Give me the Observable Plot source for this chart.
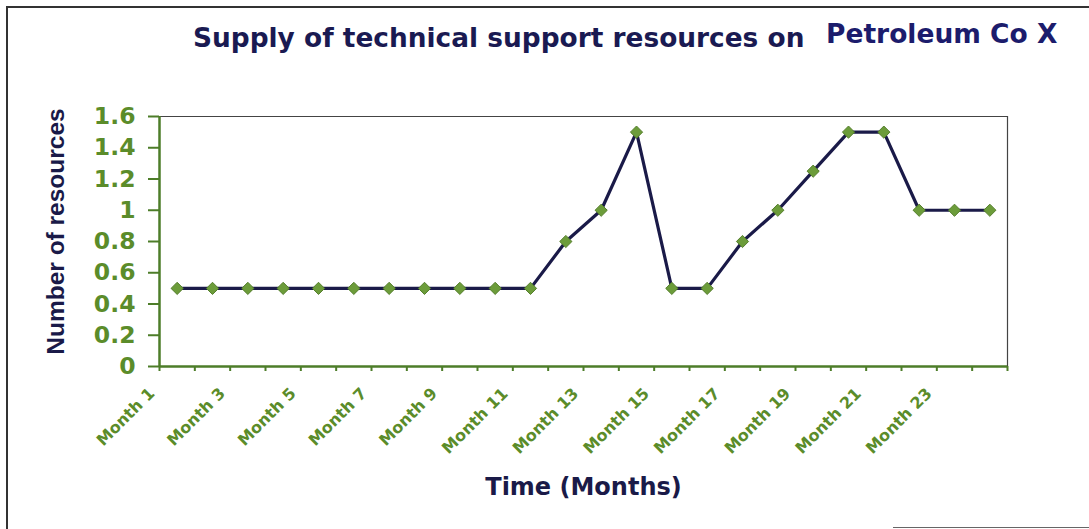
<!DOCTYPE html>
<html>
<head>
<meta charset="utf-8">
<script src="https://cdn.jsdelivr.net/npm/d3@7"></script>
<script src="https://cdn.jsdelivr.net/npm/@observablehq/plot@0.6"></script>
<style>
  html, body { margin: 0; padding: 0; background: #fff; }
  #wrap { position: relative; width: 1089px; height: 529px; overflow: hidden; background: #fff; }
  .frame-top { position: absolute; left: 6px; top: 6px; width: 1083px; height: 0; border-top: 2px solid #333; }
  .frame-left { position: absolute; left: 6px; top: 6px; width: 0; height: 523px; border-left: 2px solid #333; }
  .frame-bottom { position: absolute; left: 893px; top: 527px; width: 196px; height: 0; border-top: 1.5px solid #666; }
  .t1, .t2 { position: absolute; font-family: "DejaVu Sans", sans-serif; font-weight: bold; line-height: 1; white-space: nowrap; }
  .t1 { left: 193px; top: 25px; font-size: 26.4px; color: #1a1a52; }
  .t2 { left: 826px; top: 21px; font-size: 26.5px; color: #1c1c6c; }
  #chart { position: absolute; left: 0; top: 70px; }
</style>
</head>
<body>
<div id="wrap">
  <div class="frame-top"></div>
  <div class="frame-left"></div>
  <div class="frame-bottom"></div>
  <div class="t1">Supply of technical support resources on</div>
  <div class="t2">Petroleum Co X</div>
  <div id="chart"></div>
</div>
<script>
const months = ["Month 1","Month 2","Month 3","Month 4","Month 5","Month 6","Month 7","Month 8",
  "Month 9","Month 10","Month 11","Month 12","Month 13","Month 14","Month 15","Month 16",
  "Month 17","Month 18","Month 19","Month 20","Month 21","Month 22","Month 23","Month 24"];
const resources = [0.5,0.5,0.5,0.5,0.5,0.5,0.5,0.5,0.5,0.5,0.5,0.8,1.0,1.5,0.5,0.5,0.8,1.0,1.25,1.5,1.5,1.0,1.0,1.0];
const xTickLabels = ["Month 1","Month 3","Month 5","Month 7","Month 9","Month 11","Month 13","Month 15",
  "Month 17","Month 19","Month 21","Month 23"];
const yTicks = [0,0.2,0.4,0.6,0.8,1,1.2,1.4,1.6];
const yTitle = "Number of resources";
const xTitle = "Time (Months)";

const data = months.map((m, i) => ({month: m, idx: i + 1, value: resources[i]}));
const labelData = xTickLabels.map(l => ({label: l, idx: months.indexOf(l) + 1}));
const boundaries = d3.range(0, months.length + 1).map(i => i + 0.5);

const green = "#5b8c2a";
const axisGreen = "#4d7d29";
const navy = "#1a1a48";

const chart = Plot.plot({
  width: 1089,
  height: 459,
  marginTop: 46,
  marginBottom: 163,
  marginLeft: 159,
  marginRight: 82,
  style: {fontFamily: "'DejaVu Sans', sans-serif", fontWeight: "bold", background: "transparent"},
  x: {type: "linear", domain: [0.5, months.length + 0.5], axis: null},
  y: {domain: [0, 1.6], axis: null},
  marks: [
    Plot.ruleY([1.6], {stroke: "#444", strokeWidth: 1.2}),
    Plot.ruleX([months.length + 0.5], {stroke: "#444", strokeWidth: 1.2}),
    Plot.axisY({ticks: yTicks, tickSize: 11, tickPadding: 13, tickFormat: d => String(+d.toFixed(1)),
      fontSize: 23.5, fontWeight: "bold", color: green, stroke: axisGreen, strokeWidth: 2, label: null}),
    Plot.axisX({ticks: boundaries, tickSize: 5, tickFormat: () => "", stroke: axisGreen, strokeWidth: 2, label: null}),
    Plot.ruleX([0.5], {stroke: axisGreen, strokeWidth: 2.5}),
    Plot.ruleY([0], {stroke: axisGreen, strokeWidth: 2.5}),
    Plot.text(labelData, {x: d => d.idx - 0.5, text: "label", frameAnchor: "bottom", rotate: -45,
      textAnchor: "end", lineAnchor: "bottom", dx: -4, dy: 28, fontSize: 16, fill: green, fontWeight: "bold"}),
    Plot.text([xTitle], {frameAnchor: "bottom", lineAnchor: "bottom", dy: 128, fontSize: 24,
      fill: navy, fontWeight: "bold"}),
    Plot.text([yTitle], {frameAnchor: "left", rotate: -90, lineAnchor: "bottom", textAnchor: "middle",
      dx: -96, dy: -10, fontSize: 24.5, fill: navy, fontWeight: "bold", fontFamily: "'Liberation Sans', Arial, sans-serif"}),
    Plot.line(data, {x: "idx", y: "value", stroke: navy, strokeWidth: 3.2}),
    Plot.dot(data, {x: "idx", y: "value", symbol: "diamond2", r: 5.5, fill: "#6c9c3a", stroke: "#557f2c", strokeWidth: 1})
  ]
});
document.getElementById("chart").appendChild(chart);
</script>
</body>
</html>
